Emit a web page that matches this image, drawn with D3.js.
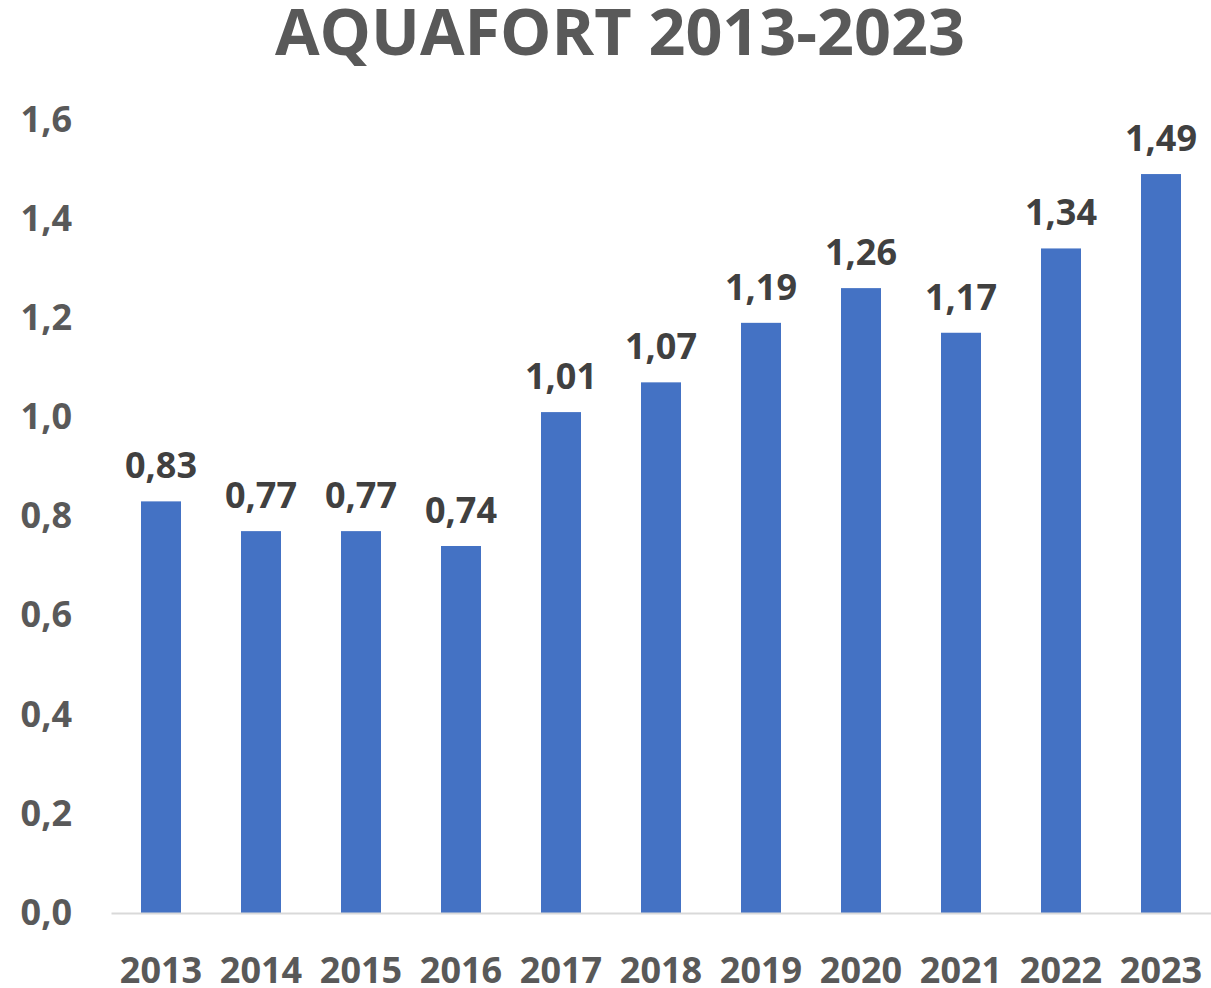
<!DOCTYPE html>
<html>
<head>
<meta charset="utf-8">
<script src="https://cdn.jsdelivr.net/npm/d3@7"></script>
<style>
  body { margin: 0; background: #fff; }
  svg { display: block; font-family: "Open Sans", sans-serif; font-weight: bold; }
</style>
</head>
<body>
<svg></svg>
<script>
const width = 1211;
const height = 988;

// data
const years = ["2013", "2014", "2015", "2016", "2017", "2018", "2019", "2020", "2021", "2022", "2023"];
const values = [0.83, 0.77, 0.77, 0.74, 1.01, 1.07, 1.19, 1.26, 1.17, 1.34, 1.49];
const yTicks = [0, 0.2, 0.4, 0.6, 0.8, 1.0, 1.2, 1.4, 1.6];

const fmt = v => d3.format(".1f")(v).replace(".", ",");
const fmt2 = v => d3.format(".2f")(v).replace(".", ",");

let svg = d3.select("svg")
    .attr("width", width)
    .attr("height", height);

// scales
let xScale = d3.scaleBand()
    .domain(years)
    .range([111, 1211])
    .paddingInner(0.6)
    .paddingOuter(0.3);
let yScale = d3.scaleLinear()
    .domain([0, 1.6])
    .range([913, 119.5]);

// title
svg.append("text")
    .attr("x", 620)
    .attr("y", 55)
    .attr("text-anchor", "middle")
    .attr("font-size", 64)
    .attr("fill", "#595959")
    .attr("textLength", 690)
    .attr("lengthAdjust", "spacingAndGlyphs")
    .text("AQUAFORT 2013-2023");

// y axis labels (no line)
let yAxis = d3.axisLeft(yScale)
    .tickValues(yTicks)
    .tickFormat(fmt)
    .tickSize(0)
    .tickPadding(0);
let gy = svg.append("g")
    .attr("transform", "translate(72,0)")
    .call(yAxis);
gy.select(".domain").remove();
gy.selectAll("text")
    .attr("font-family", "Open Sans, sans-serif")
    .attr("font-weight", "bold")
    .attr("font-size", 36)
    .attr("fill", "#595959");

// bars
svg.selectAll("rect.bar")
    .data(values)
    .enter()
    .append("rect")
        .attr("class", "bar")
        .attr("x", (d, i) => xScale(years[i]))
        .attr("y", d => yScale(d))
        .attr("width", xScale.bandwidth())
        .attr("height", d => yScale(0) - yScale(d))
        .attr("fill", "#4472C4");

// x axis
let xAxis = d3.axisBottom(xScale)
    .tickSize(0)
    .tickSizeOuter(0)
    .tickPadding(0);
let gx = svg.append("g")
    .attr("transform", `translate(0, ${yScale(0)})`)
    .call(xAxis);
gx.select(".domain")
    .attr("stroke", "#d9d9d9")
    .attr("stroke-width", 2);
gx.selectAll("text")
    .attr("font-family", "Open Sans, sans-serif")
    .attr("font-weight", "bold")
    .attr("font-size", 36)
    .attr("fill", "#595959")
    .attr("dy", null)
    .attr("y", 70);

// data labels
svg.selectAll("text.label")
    .data(values)
    .enter()
    .append("text")
        .attr("class", "label")
        .attr("x", (d, i) => xScale(years[i]) + xScale.bandwidth() / 2)
        .attr("y", d => yScale(d) - 23)
        .attr("text-anchor", "middle")
        .attr("font-size", 36)
        .attr("fill", "#404040")
        .text(fmt2);
</script>
</body>
</html>
